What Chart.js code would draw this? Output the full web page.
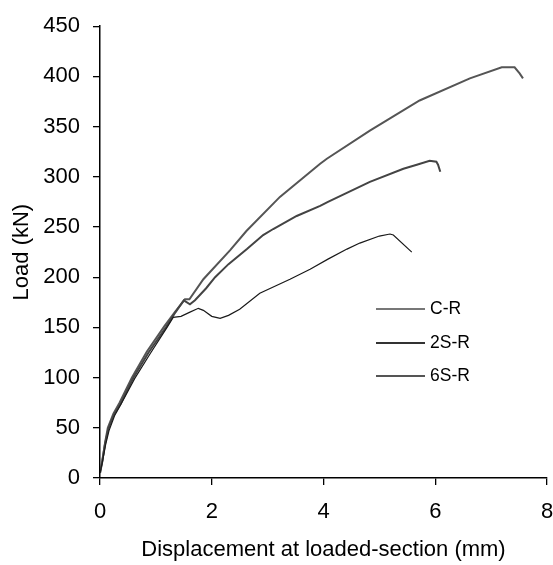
<!DOCTYPE html>
<html>
<head>
<meta charset="utf-8">
<script src="https://cdn.jsdelivr.net/npm/chart.js@4/dist/chart.umd.min.js"></script>
<style>
  html, body { margin: 0; padding: 0; background: #fff; }
  #wrap { position: relative; width: 553px; height: 565px; }
  #legend { position: absolute; left: 376px; top: 298px; font-family: "Liberation Sans", Arial, sans-serif; font-size: 17.5px; color: #000; }
  .item { position: absolute; left: 0; height: 20px; white-space: nowrap; }
  .item span.ln { position: absolute; left: 0; top: 10px; width: 49px; height: 2px; }
  .item span.tx { position: absolute; left: 54px; top: 0px; }
</style>
</head>
<body>
<div id="wrap">
  <canvas id="c" width="553" height="565"></canvas>
  <div id="legend"></div>
</div>
<script>
// Series names
const seriesNames = ["C-R", "2S-R", "6S-R"];

// C-R : displacement (mm) / load (kN)
const crX = [0, 0.04, 0.1, 0.16, 0.26, 0.38, 0.62, 0.9, 1.2, 1.31, 1.45, 1.6, 1.76, 1.85, 2.0, 2.15, 2.3, 2.5, 2.86, 3.4, 3.76, 4.08, 4.42, 4.65, 5.0, 5.19, 5.25, 5.58];
const crY = [5, 15, 33, 47, 62, 74, 99, 124, 150, 160, 161, 165, 169, 167, 161, 159, 162, 168, 184, 198, 208, 218, 228, 234, 241, 243, 242, 225];

// 2S-R
const s2X = [0, 0.04, 0.09, 0.15, 0.25, 0.37, 0.6, 0.87, 1.18, 1.35, 1.5, 1.61, 1.7, 1.9, 2.06, 2.3, 2.63, 2.92, 3.1, 3.52, 3.94, 4.08, 4.83, 5.43, 5.67, 5.9, 6.02, 6.05, 6.09];
const s2Y = [5, 16, 34, 49, 63, 74, 100, 125, 150, 165, 177, 173, 177, 189, 200, 213, 228, 242, 248, 261, 271, 275, 295, 308, 312, 316, 315, 312, 305];

// 6S-R
const s6X = [0, 0.04, 0.09, 0.14, 0.24, 0.35, 0.57, 0.84, 1.15, 1.35, 1.52, 1.6, 1.85, 2.33, 2.62, 3.22, 3.94, 4.06, 4.83, 5.72, 6.62, 7.19, 7.42, 7.51, 7.57];
const s6Y = [5, 17, 35, 50, 64, 75, 100, 126, 151, 166, 178, 178, 198, 227, 246, 280, 313, 318, 346, 376, 398, 409, 409, 403, 398];

// Axis ticks
const xTicks = [0, 2, 4, 6, 8];
const yTicks = [0, 50, 100, 150, 200, 250, 300, 350, 400, 450];

const toPts = (xs, ys) => xs.map((x, i) => ({ x: x, y: ys[i] }));

const lineStyles = [
  { color: "#1a1a1a", width: 1.2, legend: "#777777" },
  { color: "#444444", width: 2, legend: "#333333" },
  { color: "#555555", width: 2, legend: "#555555" }
];
const seriesData = [toPts(crX, crY), toPts(s2X, s2Y), toPts(s6X, s6Y)];

const FONT = "'Liberation Sans', Arial, sans-serif";

new Chart(document.getElementById("c"), {
  type: "scatter",
  data: {
    datasets: seriesNames.map((n, i) => ({
      label: n,
      data: seriesData[i],
      showLine: true,
      borderColor: lineStyles[i].color,
      borderWidth: lineStyles[i].width,
      pointRadius: 0,
      tension: 0,
      fill: false
    }))
  },
  options: {
    responsive: false,
    devicePixelRatio: 1,
    animation: false,
    layout: { padding: { top: 24, right: 6, left: 0, bottom: 0 } },
    plugins: { legend: { display: false }, tooltip: { enabled: false } },
    scales: {
      x: {
        type: "linear",
        min: 0, max: 8,
        afterBuildTicks: s => { s.ticks = xTicks.map(v => ({ value: v })); },
        afterFit: s => { s.height = 87; s.paddingLeft = 0; s.paddingRight = 0; },
        grid: { display: true, drawOnChartArea: false, drawTicks: true, tickLength: 7, color: "#000", lineWidth: 1.3 },
        border: { display: true, color: "#000", width: 1.5 },
        ticks: { color: "#000", font: { family: FONT, size: 22 }, padding: 14, maxRotation: 0 },
        title: { display: true, text: "Displacement at loaded-section (mm)", color: "#000", font: { family: FONT, size: 22 }, padding: { top: 0, bottom: 2 } }
      },
      y: {
        type: "linear",
        min: 0, max: 450,
        afterBuildTicks: s => { s.ticks = yTicks.map(v => ({ value: v })); },
        afterFit: s => { s.width = 100; },
        grid: { display: true, drawOnChartArea: false, drawTicks: true, tickLength: 7, color: "#000", lineWidth: 1.3 },
        border: { display: true, color: "#000", width: 1.5 },
        ticks: { color: "#000", font: { family: FONT, size: 22 }, padding: 13 },
        title: { display: true, text: "Load (kN)", color: "#000", font: { family: FONT, size: 22 }, padding: { top: 9, bottom: 0 } }
      }
    }
  }
});

// HTML legend (inside plot area, right-middle)
const lg = document.getElementById("legend");
seriesNames.forEach((n, i) => {
  const d = document.createElement("div");
  d.className = "item";
  d.style.top = (i * 33.5) + "px";
  d.innerHTML = '<span class="ln" style="background:' + lineStyles[i].legend + '"></span><span class="tx">' + n + '</span>';
  lg.appendChild(d);
});
</script>
</body>
</html>
